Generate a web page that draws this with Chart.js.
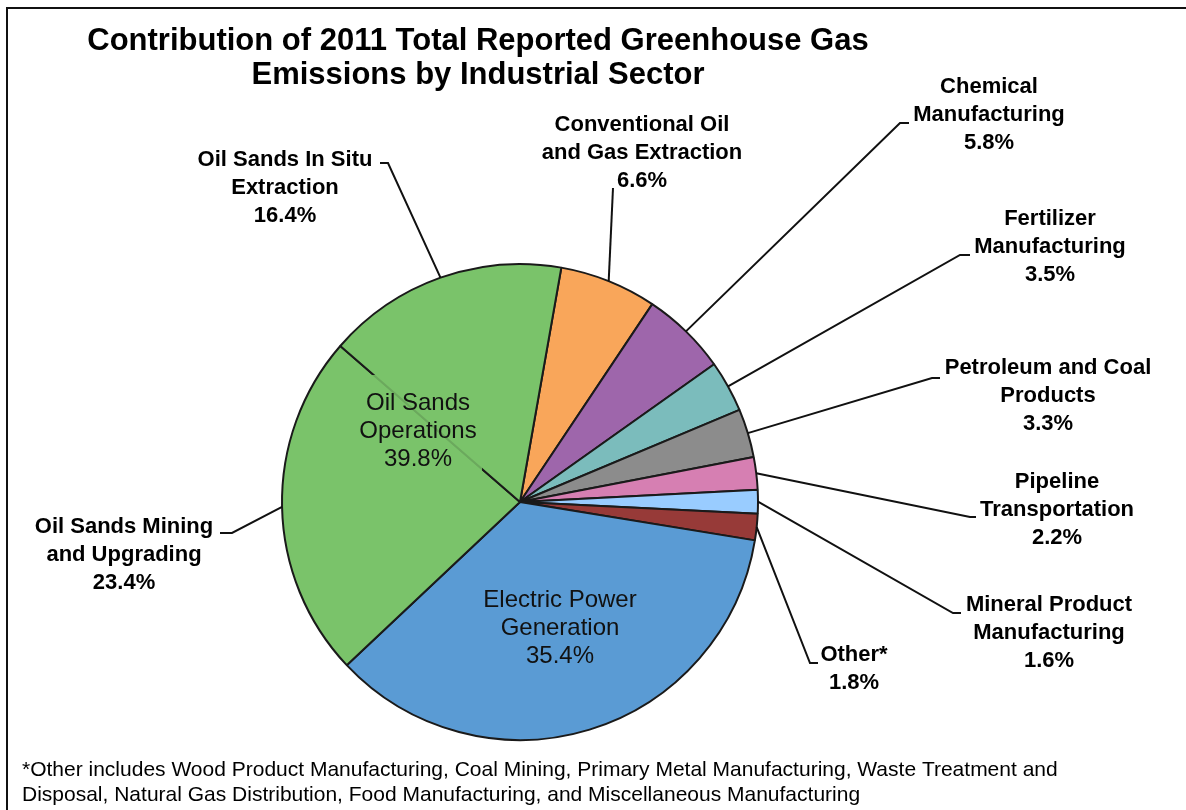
<!DOCTYPE html>
<html>
<head>
<meta charset="utf-8">
<title>Greenhouse Gas Emissions by Industrial Sector</title>
<script src="https://cdn.jsdelivr.net/npm/chart.js@4.4.1/dist/chart.umd.min.js"></script>
<style>
  html, body { margin: 0; padding: 0; background: #fff; }
  #wrap { width: 1186px; height: 810px; position: relative; }
</style>
</head>
<body>
<div id="wrap"><canvas id="pieChart"></canvas></div>
<script>
// Sectors, clockwise starting at the top of the pie
const sectors = ['Conventional Oil and Gas Extraction', 'Chemical Manufacturing', 'Fertilizer Manufacturing',
    'Petroleum and Coal Products', 'Pipeline Transportation', 'Mineral Product Manufacturing', 'Other*',
    'Electric Power Generation', 'Oil Sands Mining and Upgrading', 'Oil Sands In Situ Extraction'];

// Share of 2011 reported emissions (%)
const shares = [6.6, 5.8, 3.5, 3.3, 2.2, 1.6, 1.8, 35.4, 23.4, 16.4];

// Text lines of each slice label (the percentage is added below them)
const labelLines = [
    ['Conventional Oil', 'and Gas Extraction'],
    ['Chemical', 'Manufacturing'],
    ['Fertilizer', 'Manufacturing'],
    ['Petroleum and Coal', 'Products'],
    ['Pipeline', 'Transportation'],
    ['Mineral Product', 'Manufacturing'],
    ['Other*'],
    ['Electric Power', 'Generation'],
    ['Oil Sands Mining', 'and Upgrading'],
    ['Oil Sands In Situ', 'Extraction']
];

// The two oil sands slices are also summed into one group label
const oilSandsGroup = ['Oil Sands', 'Operations'];
const oilSandsIdx = [8, 9];

const sliceColors = ['#f9a65a', '#9e66ab', '#7bbcbc', '#8c8c8c', '#d67fb2', '#99ccff', '#973a38',
    '#5a9bd4', '#7ac36a', '#7ac36a'];

const titleLines = ['Contribution of 2011 Total Reported Greenhouse Gas', 'Emissions by Industrial Sector'];
const footnoteLines = [
    '*Other includes Wood Product Manufacturing, Coal Mining, Primary Metal Manufacturing, Waste Treatment and',
    'Disposal, Natural Gas Distribution, Food Manufacturing, and Miscellaneous Manufacturing'
];

// Where each label sits: text centre x, first line y, leader elbow and the short tick next to the text
const labelLayout = [
    { x: 642, y: 125, elbow: [613, 188] },
    { x: 989, y: 87, elbow: [900, 123], tick: [909, 123] },
    { x: 1050, y: 219, elbow: [960, 255], tick: [970, 255] },
    { x: 1048, y: 368, elbow: [932, 378], tick: [940, 378] },
    { x: 1057, y: 482, elbow: [970, 517], tick: [976, 517] },
    { x: 1049, y: 605, elbow: [953, 613], tick: [961, 613] },
    { x: 854, y: 655, elbow: [810, 663], tick: [818, 663] },
    { x: 560, y: 600, inside: true },
    { x: 124, y: 527, elbow: [232, 533], tick: [220, 533] },
    { x: 285, y: 160, elbow: [388, 163], tick: [380, 163] }
];
const groupLayout = { x: 418, y: 403 };

const FONT = '"Liberation Sans", Arial, sans-serif';
const LINE_H = 28;

function drawLines(ctx, lines, x, y) {
    lines.forEach(function (t, i) {
        ctx.fillText(t, x, y + i * LINE_H);
    });
}

// Labels, leader lines, title, footnote and frame
const decorations = {
    id: 'decorations',
    beforeDraw(chart) {
        const ctx = chart.ctx;
        ctx.save();
        ctx.fillStyle = '#fff';
        ctx.fillRect(0, 0, chart.width, chart.height);
        ctx.restore();
    },
    afterDatasetsDraw(chart) {
        const ctx = chart.ctx;
        const arcs = chart.getDatasetMeta(0).data;
        ctx.save();
        ctx.textAlign = 'center';
        ctx.textBaseline = 'middle';

        shares.forEach(function (v, i) {
            const lay = labelLayout[i];
            const lines = labelLines[i].concat([v.toFixed(1) + '%']);
            if (lay.inside) {
                ctx.fillStyle = '#111';
                ctx.font = '24px ' + FONT;
                drawLines(ctx, lines, lay.x, lay.y);
                return;
            }
            // leader line from the middle of the slice edge
            const arc = arcs[i];
            const mid = (arc.startAngle + arc.endAngle) / 2;
            const ax = arc.x + Math.cos(mid) * arc.outerRadius;
            const ay = arc.y + Math.sin(mid) * arc.outerRadius;
            ctx.strokeStyle = '#111';
            ctx.lineWidth = 2;
            ctx.beginPath();
            ctx.moveTo(ax, ay);
            ctx.lineTo(lay.elbow[0], lay.elbow[1]);
            if (lay.tick) ctx.lineTo(lay.tick[0], lay.tick[1]);
            ctx.stroke();

            ctx.fillStyle = '#000';
            ctx.font = 'bold 22px ' + FONT;
            drawLines(ctx, lines, lay.x, lay.y);
        });

        // combined oil sands label, with a soft box under it
        const total = oilSandsIdx.reduce(function (acc, k) { return acc + shares[k]; }, 0);
        const gLines = oilSandsGroup.concat([total.toFixed(1) + '%']);
        ctx.fillStyle = 'rgba(122, 195, 106, 0.85)';
        ctx.fillRect(groupLayout.x - 62, groupLayout.y - 28, 126, 114);
        ctx.fillStyle = '#111';
        ctx.font = '24px ' + FONT;
        drawLines(ctx, gLines, groupLayout.x, groupLayout.y);
        ctx.restore();
    },
    afterDraw(chart) {
        const ctx = chart.ctx;
        ctx.save();
        // frame (left and top edges)
        ctx.strokeStyle = '#111';
        ctx.lineWidth = 2;
        ctx.beginPath();
        ctx.moveTo(7, chart.height + 2);
        ctx.lineTo(7, 8);
        ctx.lineTo(chart.width + 2, 8);
        ctx.stroke();

        ctx.fillStyle = '#000';
        ctx.textAlign = 'center';
        ctx.textBaseline = 'middle';
        ctx.font = 'bold 31px ' + FONT;
        ctx.fillText(titleLines[0], 478, 41);
        ctx.fillText(titleLines[1], 478, 75);

        ctx.textAlign = 'left';
        ctx.font = '21px ' + FONT;
        ctx.fillText(footnoteLines[0], 22, 770);
        ctx.fillText(footnoteLines[1], 22, 795);
        ctx.restore();
    }
};

const config = {
    type: 'pie',
    data: {
        labels: sectors,
        datasets: [{
            data: shares,
            backgroundColor: sliceColors,
            borderColor: '#1a1a1a',
            borderWidth: 2
        }]
    },
    options: {
        responsive: false,
        animation: false,
        rotation: 10,
        radius: 238,
        layout: {
            padding: { left: 0, right: 146, top: 194, bottom: 0 }
        },
        plugins: {
            legend: { display: false },
            title: { display: false },
            tooltip: { enabled: false }
        }
    },
    plugins: [decorations]
};

const canvas = document.getElementById('pieChart');
canvas.width = 1186;
canvas.height = 810;
let pieChart = new Chart(canvas, config);
</script>
</body>
</html>
